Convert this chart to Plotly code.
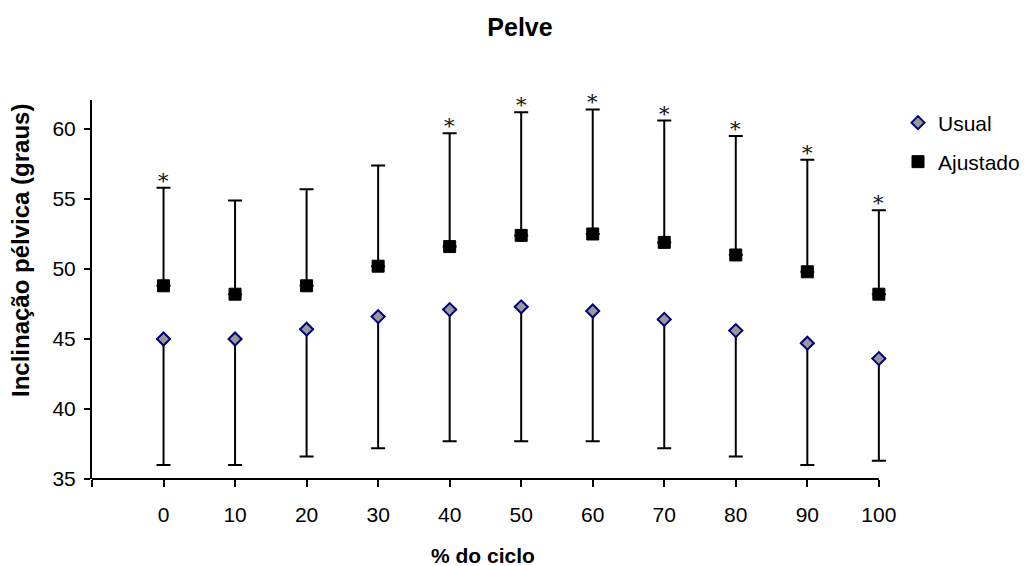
import plotly.graph_objects as go

# ---- data ----
ciclo = [0, 10, 20, 30, 40, 50, 60, 70, 80, 90, 100]
tick_labels = ["0", "10", "20", "30", "40", "50", "60", "70", "80", "90", "100"]

usual_mean = [45.0, 45.0, 45.7, 46.6, 47.1, 47.3, 47.0, 46.4, 45.6, 44.7, 43.6]
usual_sd   = [9.0, 9.0, 9.1, 9.4, 9.4, 9.6, 9.3, 9.2, 9.0, 8.7, 7.3]

ajust_mean = [48.8, 48.2, 48.8, 50.2, 51.6, 52.4, 52.5, 51.9, 51.0, 49.8, 48.2]
ajust_sd   = [7.0, 6.7, 6.9, 7.2, 8.1, 8.8, 8.9, 8.7, 8.5, 8.0, 6.0]

signif = [True, False, False, False, True, True, True, True, True, True, True]

FONT = "Liberation Sans, Arial, sans-serif"
X_MIN, X_MAX, X_PAD = -10, 100, 1.0
ML, MR, MT, MB = 92, 146, 100, 87
PW = 1032 - ML - MR
PH = 566 - MT - MB

fig = go.Figure()

fig.add_trace(go.Scatter(
    x=ciclo, y=usual_mean, mode="markers", name="Usual",
    marker=dict(symbol="diamond", size=10, color="#999999",
                line=dict(color="#000080", width=2)),
    error_y=dict(type="data", symmetric=False, array=[0] * len(usual_sd),
                 arrayminus=usual_sd, color="black", thickness=2, width=7),
    cliponaxis=False, legend="legend",
))

fig.add_trace(go.Scatter(
    x=ciclo, y=ajust_mean, mode="markers", name="Ajustado",
    marker=dict(symbol="square", size=12, color="black",
                line=dict(color="black", width=1)),
    error_y=dict(type="data", symmetric=False, array=ajust_sd,
                 arrayminus=[0] * len(ajust_sd), color="black", thickness=2, width=7),
    cliponaxis=False, legend="legend2",
))

# asterisks above significant Ajustado bars
for xv, m, s, sig in zip(ciclo, ajust_mean, ajust_sd, signif):
    if sig:
        fig.add_annotation(x=xv, y=m + s, xref="x", yref="y", text="*",
                           showarrow=False, yanchor="bottom", yshift=-7,
                           font=dict(family="DejaVu Serif, serif", size=21, color="#111111"))

fig.add_annotation(text="<b>Inclinação pélvica (graus)</b>", textangle=-90,
                   xref="paper", yref="paper", x=0, xshift=-71, xanchor="center",
                   y=(566 - MB - 251) / PH, yanchor="middle", showarrow=False,
                   font=dict(family=FONT, size=24, color="black"))

fig.add_annotation(text="<b>% do ciclo</b>",
                   xref="paper", yref="paper", x=(483 - ML) / PW, xanchor="center",
                   y=0, yshift=-(555 - (566 - MB)), yanchor="middle", showarrow=False,
                   font=dict(family=FONT, size=21, color="black"))

# x axis line ending exactly at the last category
fig.add_shape(type="line", xref="paper", yref="paper",
              x0=0, x1=(X_MAX - X_MIN) / (X_MAX + X_PAD - X_MIN), y0=0, y1=0,
              line=dict(color="black", width=2))

fig.update_layout(
    width=1032, height=566,
    margin=dict(l=ML, r=MR, t=MT, b=MB, autoexpand=False),
    paper_bgcolor="white", plot_bgcolor="white",
    font=dict(family=FONT, size=21, color="black"),
    title=dict(text="<b>Pelve</b>", x=520 / 1032, xanchor="center",
               y=1 - 27 / 566, yanchor="middle",
               font=dict(family=FONT, size=25, color="black")),
    showlegend=True,
    legend=dict(x=(898 - ML) / PW, y=(566 - MB - 123) / PH, xanchor="left", yanchor="middle",
                bgcolor="rgba(0,0,0,0)", font=dict(family=FONT, size=21, color="black")),
    legend2=dict(x=(898 - ML) / PW, y=(566 - MB - 162) / PH, xanchor="left", yanchor="middle",
                 bgcolor="rgba(0,0,0,0)", font=dict(family=FONT, size=21, color="black")),
)

fig.update_xaxes(
    range=[X_MIN, X_MAX + X_PAD], tickvals=[X_MIN] + ciclo, ticktext=[""] + tick_labels,
    showgrid=False, zeroline=False, showline=False, automargin=False,
    ticks="outside", ticklen=7, tickwidth=2, tickcolor="black",
    ticklabelstandoff=10,
    tickfont=dict(family=FONT, size=21, color="black"),
)

fig.update_yaxes(
    range=[35, 62.07], tickvals=[35, 40, 45, 50, 55, 60],
    showgrid=False, zeroline=False, showline=True, linecolor="black", linewidth=2,
    automargin=False,
    ticks="outside", ticklen=6, tickwidth=2, tickcolor="black",
    ticklabelstandoff=4,
    tickfont=dict(family=FONT, size=21, color="black"),
)

fig.write_html("out.html", config={"displayModeBar": False},
               post_script="document.body.style.margin='0';document.body.style.padding='0';")
